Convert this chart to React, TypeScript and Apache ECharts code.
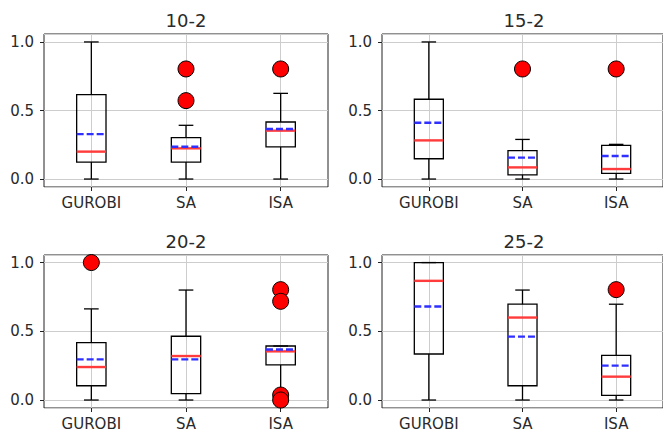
import React, { useEffect, useRef } from "react";
import * as echarts from "echarts";

const categories = ["GUROBI", "SA", "ISA"];
const titles = ["10-2", "15-2", "20-2", "25-2"];

// [min, q1, median, q3, max] per category, per panel
const stats10 = [
  [0, 0.124, 0.2, 0.616, 1.0],
  [0, 0.124, 0.224, 0.302, 0.392],
  [0, 0.234, 0.353, 0.416, 0.625],
];
const means10 = [0.328, 0.236, 0.365];
const outliers10 = [[], [0.803, 0.572], [0.803]];

const stats15 = [
  [0, 0.148, 0.282, 0.582, 1.0],
  [0, 0.031, 0.085, 0.208, 0.289],
  [0, 0.042, 0.073, 0.245, 0.253],
];
const means15 = [0.411, 0.156, 0.168];
const outliers15 = [[], [0.803], [0.803]];

const stats20 = [
  [0, 0.104, 0.24, 0.417, 0.663],
  [0, 0.046, 0.32, 0.464, 0.8],
  [0.06, 0.255, 0.354, 0.393, 0.393],
];
const means20 = [0.296, 0.296, 0.368];
const outliers20 = [[1.0], [], [0.803, 0.718, 0.036, 0.0]];

const stats25 = [
  [0, 0.335, 0.867, 1.0, 1.0],
  [0, 0.104, 0.6, 0.697, 0.8],
  [0, 0.034, 0.17, 0.325, 0.697],
];
const means25 = [0.68, 0.461, 0.25];
const outliers25 = [[], [], [0.803]];

const panelStats = [stats10, stats15, stats20, stats25];
const panelMeans = [means10, means15, means20, means25];
const panelOutliers = [outliers10, outliers15, outliers20, outliers25];

const FONT = "DejaVu Sans";
const TEXT = "#2a2a2a";
const GRIDC = "#cdcdcd";

const grids = [
  { left: 44, top: 34, width: 284, height: 153 },
  { left: 382, top: 34, width: 284, height: 153 },
  { left: 44, top: 255, width: 284, height: 153 },
  { left: 382, top: 255, width: 284, height: 153 },
];
const yRanges = [
  [-0.058, 1.058],
  [-0.058, 1.058],
  [-0.058, 1.055],
  [-0.058, 1.055],
];

function renderBox(params: any, api: any) {
  const x = api.value(0);
  const vMin = api.coord([x, api.value(1)]);
  const vQ1 = api.coord([x, api.value(2)]);
  const vMed = api.coord([x, api.value(3)]);
  const vQ3 = api.coord([x, api.value(4)]);
  const vMax = api.coord([x, api.value(5)]);
  const vMean = api.coord([x, api.value(6)]);
  const cx = vMed[0];
  const bw = api.size([1, 0])[0] * 0.31;
  const cw = bw / 2;
  const black = { stroke: "#000", lineWidth: 1.3, fill: null };
  return {
    type: "group",
    children: [
      { type: "line", shape: { x1: cx, y1: vQ1[1], x2: cx, y2: vMin[1] }, style: black },
      { type: "line", shape: { x1: cx, y1: vQ3[1], x2: cx, y2: vMax[1] }, style: black },
      { type: "line", shape: { x1: cx - cw / 2, y1: vMin[1], x2: cx + cw / 2, y2: vMin[1] }, style: black },
      { type: "line", shape: { x1: cx - cw / 2, y1: vMax[1], x2: cx + cw / 2, y2: vMax[1] }, style: black },
      {
        type: "rect",
        shape: { x: cx - bw / 2, y: vQ3[1], width: bw, height: vQ1[1] - vQ3[1] },
        style: { stroke: "#000", lineWidth: 1.3, fill: "rgba(0,0,0,0)" },
      },
      {
        type: "line",
        shape: { x1: cx - bw / 2, y1: vMed[1], x2: cx + bw / 2, y2: vMed[1] },
        style: { stroke: "#ff3b3b", lineWidth: 2.4 },
      },
      {
        type: "line",
        shape: { x1: cx - bw / 2, y1: vMean[1], x2: cx + bw / 2, y2: vMean[1] },
        style: { stroke: "#2f2fff", lineWidth: 2.4, lineDash: [7, 3] },
      },
    ],
  };
}

export default function App() {
  const ref = useRef<HTMLDivElement>(null);
  useEffect(() => {
    if (!ref.current) return;
    const chart = echarts.init(ref.current, null, { renderer: "svg" });
    const xAxis: any[] = [];
    const yAxis: any[] = [];
    const series: any[] = [];
    const graphic: any[] = [];
    grids.forEach((g, i) => {
      xAxis.push({
        type: "category",
        gridIndex: i,
        data: categories,
        boundaryGap: true,
        position: "bottom",
        axisLine: { show: false, onZero: false },
        axisTick: { show: true, alignWithLabel: true, length: 4, lineStyle: { color: "#222" } },
        splitLine: { show: true, alignWithLabel: true, lineStyle: { color: GRIDC, width: 1 } },
        axisLabel: { fontFamily: FONT, fontSize: 15, color: TEXT, margin: 8 },
      });
      yAxis.push({
        type: "value",
        gridIndex: i,
        min: yRanges[i][0],
        max: yRanges[i][1],
        splitNumber: 2,
        axisLine: { show: false, onZero: false },
        axisTick: { show: true, length: 4, lineStyle: { color: "#222" } },
        splitLine: { show: true, lineStyle: { color: GRIDC, width: 1 } },
        axisLabel: {
          fontFamily: FONT,
          fontSize: 15,
          color: TEXT,
          margin: 10,
          showMinLabel: false,
          showMaxLabel: false,
          formatter: (v: number) => v.toFixed(1),
        },
      });
      const boxData = panelStats[i].map((s, k) => [k, ...s, panelMeans[i][k]]);
      series.push({
        type: "custom",
        xAxisIndex: i,
        yAxisIndex: i,
        renderItem: renderBox,
        encode: { x: 0, y: [1, 2, 3, 4, 5, 6] },
        data: boxData,
        z: 3,
        silent: true,
      });
      const outData: number[][] = [];
      panelOutliers[i].forEach((arr, k) => arr.forEach((v) => outData.push([k, v])));
      series.push({
        type: "scatter",
        xAxisIndex: i,
        yAxisIndex: i,
        data: outData,
        symbol: "circle",
        symbolSize: 16,
        itemStyle: { color: "#ff0000", borderColor: "#000", borderWidth: 1, opacity: 1 },
        z: 4,
        silent: true,
      });
      graphic.push({
        type: "text",
        x: g.left + g.width / 2,
        y: g.top - 14,
        style: {
          text: titles[i],
          fontFamily: FONT,
          fontSize: 18,
          fill: TEXT,
          align: "center",
          verticalAlign: "middle",
        },
      });
    });
    chart.setOption({
      animation: false,
      backgroundColor: "#fff",
      grid: grids.map((g) => ({
        ...g,
        show: true,
        borderColor: "#222",
        borderWidth: 1,
        backgroundColor: "rgba(0,0,0,0)",
      })),
      xAxis,
      yAxis,
      series,
      graphic,
    });
    return () => chart.dispose();
  }, []);
  return (
    <div
      ref={ref}
      style={{ position: "absolute", left: 0, top: 0, width: 663, height: 441 }}
    />
  );
}
